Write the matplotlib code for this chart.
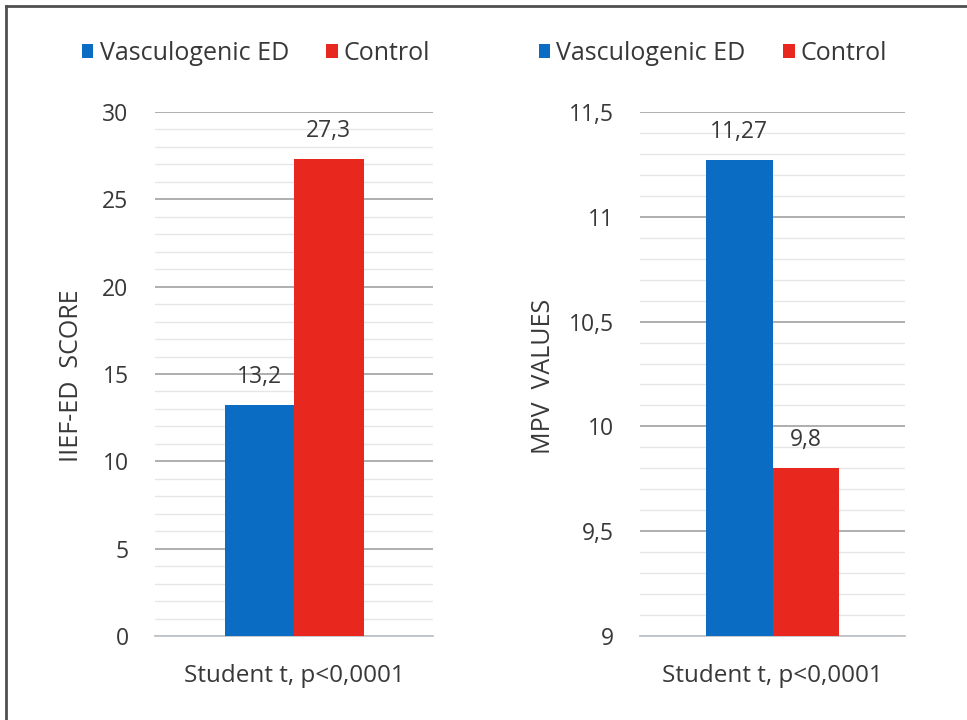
import matplotlib
matplotlib.use("Agg")
import matplotlib.pyplot as plt
from matplotlib.ticker import MultipleLocator, FuncFormatter
from matplotlib.patches import Patch
from matplotlib.lines import Line2D

plt.rcParams['font.family'] = ['Open Sans', 'DejaVu Sans']

groups = ["Vasculogenic ED", "Control"]
colors = ["#0a6cc2", "#e8281e"]
iief_values = [13.2, 27.3]
mpv_values = [11.27, 9.8]
iief_labels = ["13,2", "27,3"]
mpv_labels = ["11,27", "9,8"]
xlabel_text = "Student t, p<0,0001"

W, H = 967, 720
fig = plt.figure(figsize=(W / 100, H / 100), dpi=100)
text_col = "#383838"


def comma(v, pos=None):
    return f"{v:g}".replace(".", ",")


def draw_panel(rect, values, labels, ylim, major, minor, ylabel, ylabel_x, leg_x):
    ax = fig.add_axes(rect)
    width = 0.25
    xs = [-width / 2, width / 2]
    bars = ax.bar(xs, [v - ylim[0] for v in values], bottom=ylim[0], width=width,
                  color=colors, zorder=3)
    for b, lab in zip(bars, labels):
        ax.annotate(lab, (b.get_x() + b.get_width() / 2, b.get_y() + b.get_height()),
                    xytext=(0, 28), textcoords="offset pixels", ha="center", va="center",
                    fontsize=16.5, color=text_col)
    ax.set_xlim(-0.5, 0.5)
    ax.set_ylim(*ylim)
    ax.yaxis.set_major_locator(MultipleLocator(major))
    ax.yaxis.set_minor_locator(MultipleLocator(minor))
    ax.yaxis.set_major_formatter(FuncFormatter(comma))
    ax.grid(axis="y", which="major", color="#a8a8a8", lw=1.3, zorder=0)
    ax.grid(axis="y", which="minor", color="#e6e6e6", lw=1.0, zorder=0)
    for s in ["top", "right", "left"]:
        ax.spines[s].set_visible(False)
    ax.spines["bottom"].set_color("#bfc4c8")
    ax.spines["bottom"].set_linewidth(1.3)
    ax.tick_params(axis="y", which="both", length=0, pad=19, labelsize=16.5, labelcolor=text_col)
    ax.tick_params(axis="x", length=0)
    ax.set_xticks([])
    ax.set_xlabel(xlabel_text, fontsize=17.5, color=text_col, labelpad=20)
    fig.text(ylabel_x, 1 - 376 / H, ylabel, rotation=90, ha="center", va="center",
             fontsize=18, color=text_col)
    handles = [Patch(facecolor=c, label=g) for c, g in zip(colors, groups)]
    fig.legend(handles=handles, loc="center left", bbox_to_anchor=(leg_x, 0.926),
               bbox_transform=fig.transFigure, ncol=2, frameon=False, fontsize=18,
               handlelength=0.45, handleheight=0.45, handletextpad=0.25,
               columnspacing=1.5, borderpad=0, borderaxespad=0, labelcolor=text_col)
    return ax


bot = (H - 636) / H
hgt = 524 / H
draw_panel([155 / W, bot, 278 / W, hgt], iief_values, iief_labels, (0, 30), 5, 1,
           "IIEF-ED  SCORE", 72 / W, 82 / W)
draw_panel([640 / W, bot, 265 / W, hgt], mpv_values, mpv_labels, (9, 11.5), 0.5, 0.1,
           "MPV  VALUES", 543 / W, 539 / W)

# frame (cropped on right and bottom)
fig.add_artist(Line2D([6 / W, 6 / W], [0, 1 - 6 / H], color="#505050", lw=2))
fig.add_artist(Line2D([6 / W, 1], [1 - 6 / H, 1 - 6 / H], color="#505050", lw=2))

fig.savefig("out.png", dpi=100)
